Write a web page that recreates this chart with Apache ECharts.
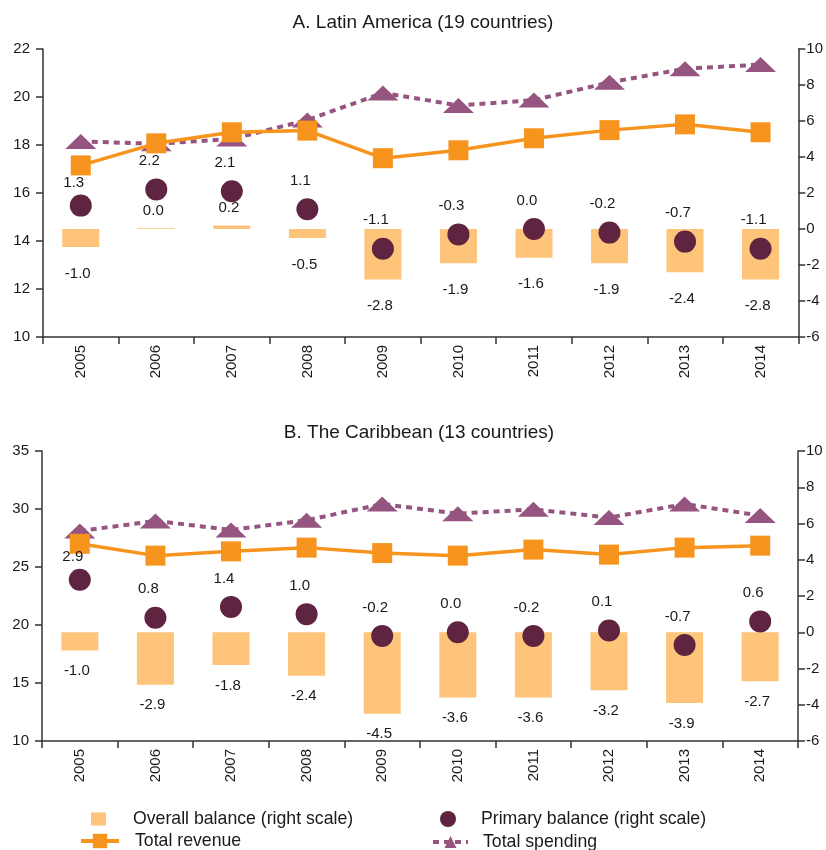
<!DOCTYPE html>
<html>
<head>
<meta charset="utf-8">
<script src="https://cdn.jsdelivr.net/npm/echarts@6/dist/echarts.min.js"></script>
<style>
  html, body { margin: 0; padding: 0; background: #fff; }
  #chart { width: 826px; height: 850px; }
</style>
</head>
<body>
<div id="chart"></div>
<script>
// Fiscal indicators, percent of GDP, 2005-2014
const years = ['2005', '2006', '2007', '2008', '2009', '2010', '2011', '2012', '2013', '2014'];

// A. Latin America (19 countries)
const latRevenue  = [17.15, 18.07, 18.53, 18.60, 17.45, 17.78, 18.28, 18.62, 18.86, 18.53];
const latSpending = [18.15, 18.05, 18.25, 19.04, 20.17, 19.65, 19.87, 20.61, 21.18, 21.35];
const latOverall  = [-1.0, 0.04, 0.2, -0.5, -2.8, -1.9, -1.6, -1.9, -2.4, -2.8];
const latPrimary  = [1.3, 2.2, 2.1, 1.1, -1.1, -0.3, 0.0, -0.2, -0.7, -1.1];

// B. The Caribbean (13 countries)
const carRevenue  = [27.0, 25.98, 26.35, 26.67, 26.2, 25.98, 26.5, 26.07, 26.67, 26.84];
const carSpending = [28.1, 28.97, 28.2, 29.03, 30.43, 29.6, 29.97, 29.26, 30.43, 29.43];
const carOverall  = [-1.0, -2.9, -1.8, -2.4, -4.5, -3.6, -3.6, -3.2, -3.9, -2.7];
const carPrimary  = [2.9, 0.8, 1.4, 1.0, -0.2, 0.0, -0.2, 0.1, -0.7, 0.6];

const NAME_OVERALL = 'Overall balance (right scale)';
const NAME_PRIMARY = 'Primary balance (right scale)';
const NAME_REVENUE = 'Total revenue';
const NAME_SPENDING = 'Total spending';

const C_BAR = '#FDC47A';
const C_REV = '#F7941E';
const C_PRIM = '#5E2440';
const C_SPEND = '#955580';
const TXT = '#1a1a1a';
const AXIS = '#333';
const FONT = '"Liberation Sans", Arial, Helvetica, sans-serif';

const fmt1 = p => Number(p.value).toFixed(1);

function catAxis(gridIndex) {
  return {
    type: 'category', gridIndex, data: years, boundaryGap: true,
    axisLine: { onZero: false, lineStyle: { color: AXIS, width: 1.5 } },
    axisTick: { show: true, interval: 0, length: 7, lineStyle: { color: AXIS, width: 1.5 } },
    axisLabel: { rotate: 90, margin: 8, color: TXT, fontSize: 15, fontFamily: FONT, interval: 0 },
    splitLine: { show: false }
  };
}

function valAxis(gridIndex, position, min, max, interval, margin) {
  return {
    type: 'value', gridIndex, position, min, max, interval,
    axisLine: { show: true, onZero: false, lineStyle: { color: AXIS, width: 1.5 } },
    axisTick: { show: true, length: 7, lineStyle: { color: AXIS, width: 1.5 } },
    axisLabel: { color: TXT, fontSize: 15, fontFamily: FONT, margin },
    splitLine: { show: false }
  };
}

// Bar labels sit beyond the bar end; negative bars get a wider gap.
function barData(values, negDist) {
  return values.map(v => ({
    value: v,
    label: { distance: v >= 0 ? 10 : negDist }
  }));
}

// The first circle's label sits a little lower so it clears the revenue marker.
function circleData(values) {
  return values.map((v, i) => (i === 0 ? { value: v, label: { distance: 4 } } : v));
}

function panelSeries(xi, yl, yr, revenue, spending, overall, primary, negDist) {
  return [
    {
      name: NAME_OVERALL, type: 'bar', xAxisIndex: xi, yAxisIndex: yr,
      data: barData(overall, negDist), barWidth: 37, z: 1,
      itemStyle: { color: C_BAR },
      label: {
        show: true, position: 'outside', formatter: fmt1,
        color: TXT, fontSize: 15, fontFamily: FONT, offset: [-3, 0]
      }
    },
    {
      name: NAME_SPENDING, type: 'line', xAxisIndex: xi, yAxisIndex: yl,
      data: spending, symbol: 'triangle', symbolSize: [31, 15], z: 4,
      itemStyle: { color: C_SPEND },
      lineStyle: { color: C_SPEND, width: 4, type: [6, 5] }
    },
    {
      name: NAME_REVENUE, type: 'line', xAxisIndex: xi, yAxisIndex: yl,
      data: revenue, symbol: 'rect', symbolSize: 20, z: 5,
      itemStyle: { color: C_REV },
      lineStyle: { color: C_REV, width: 3.5 }
    },
    {
      name: NAME_PRIMARY, type: 'scatter', xAxisIndex: xi, yAxisIndex: yr,
      data: circleData(primary), symbol: 'circle', symbolSize: 22, z: 6,
      itemStyle: { color: C_PRIM, opacity: 1 },
      label: {
        show: true, position: 'top', distance: 10, offset: [-7, 0], formatter: fmt1,
        color: TXT, fontSize: 15, fontFamily: FONT
      }
    }
  ];
}

function legendItem(name, left, top, w, h, padLeft, icon) {
  const item = icon ? { name, icon } : { name };
  return {
    data: [item], left, top, orient: 'horizontal', padding: 0,
    itemWidth: w, itemHeight: h, selectedMode: false,
    lineStyle: { width: 4 },
    textStyle: { color: TXT, fontSize: 17.7, fontFamily: FONT, padding: [0, 0, 0, padLeft] }
  };
}

const chart = echarts.init(document.getElementById('chart'), null, { renderer: 'canvas' });

chart.setOption({
  animation: false,
  backgroundColor: '#fff',
  title: [
    { text: 'A. Latin America (19 countries)', left: 423, top: 13, textAlign: 'center', padding: 0,
      textStyle: { color: TXT, fontSize: 19, fontWeight: 'normal', fontFamily: FONT } },
    { text: 'B. The Caribbean (13 countries)', left: 419, top: 423, textAlign: 'center', padding: 0,
      textStyle: { color: TXT, fontSize: 19, fontWeight: 'normal', fontFamily: FONT } }
  ],
  grid: [
    { left: 43, right: 26, top: 49, height: 288 },
    { left: 42, right: 28, top: 451, height: 290 }
  ],
  xAxis: [catAxis(0), catAxis(1)],
  yAxis: [
    valAxis(0, 'left', 10, 22, 2, 13),
    valAxis(0, 'right', -6, 10, 2, 8),
    valAxis(1, 'left', 10, 35, 5, 13),
    valAxis(1, 'right', -6, 10, 2, 8)
  ],
  legend: [
    legendItem(NAME_OVERALL, 91, 810, 15, 13, 22, 'rect'),
    legendItem(NAME_REVENUE, 79, 832, 38, 18, 11),
    legendItem(NAME_PRIMARY, 440, 810, 16, 16, 20, 'circle'),
    legendItem(NAME_SPENDING, 431, 833, 35, 15, 10)
  ],
  series: [
    ...panelSeries(0, 0, 1, latRevenue, latSpending, latOverall, latPrimary, 19),
    ...panelSeries(1, 2, 3, carRevenue, carSpending, carOverall, carPrimary, 13)
  ]
});
</script>
</body>
</html>
